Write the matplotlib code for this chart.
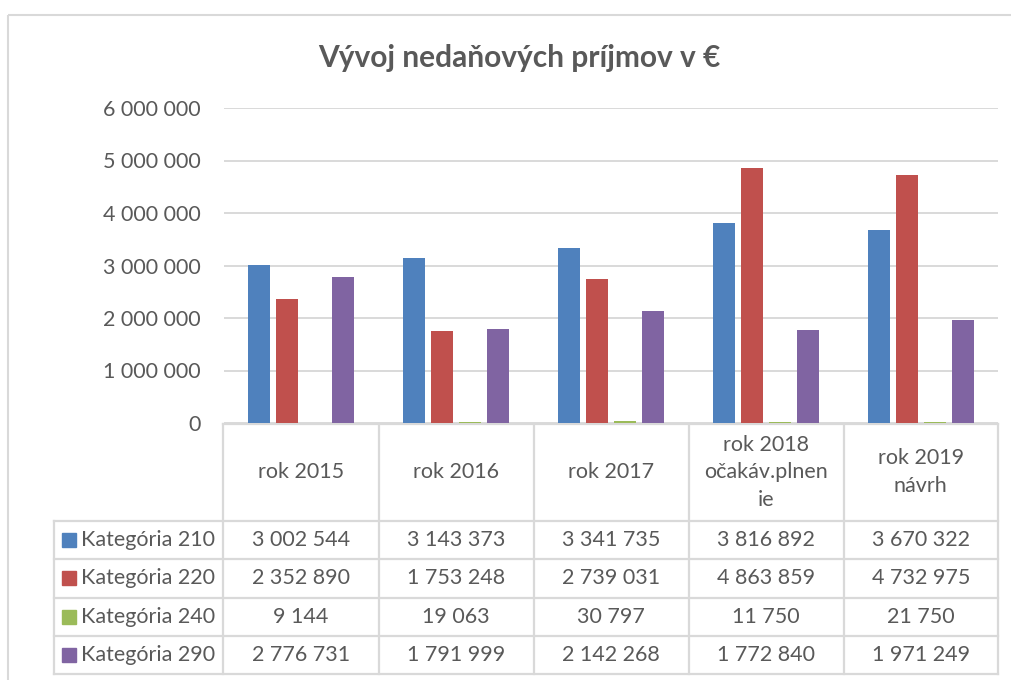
import numpy as np
import matplotlib
matplotlib.use("Agg")
import matplotlib.pyplot as plt
from matplotlib.patches import Rectangle
from matplotlib.lines import Line2D

plt.rcParams['font.family'] = ['Lato', 'DejaVu Sans']

title = "Vývoj nedaňových príjmov v €"
categories = ["rok 2015", "rok 2016", "rok 2017", "rok 2018\nočakáv.plnen\nie", "rok 2019\nnávrh"]
series_names = ["Kategória 210", "Kategória 220", "Kategória 240", "Kategória 290"]
kat210 = [3002544, 3143373, 3341735, 3816892, 3670322]
kat220 = [2352890, 1753248, 2739031, 4863859, 4732975]
kat240 = [9144, 19063, 30797, 11750, 21750]
kat290 = [2776731, 1791999, 2142268, 1772840, 1971249]
yticks = [0, 1000000, 2000000, 3000000, 4000000, 5000000, 6000000]

series = [kat210, kat220, kat240, kat290]
colors = ["#4F81BD", "#C0504D", "#9BBB59", "#8064A2"]
txt = "#595959"
grid = "#D9D9D9"

W, H = 1011, 680
fig = plt.figure(figsize=(W / 100, H / 100), dpi=100)

def fx(px):
    return px / W

def fy(py):
    return 1 - py / H

# plot area in pixels
L, R, T, B = 224, 998, 108, 423
ax = fig.add_axes([fx(L), fy(B), fx(R - L), (B - T) / H])
x = np.arange(len(categories))
bw = 0.142
step = 0.181
offs = (np.arange(len(series)) - 1.5) * step
for s, c, o in zip(series, colors, offs):
    ax.bar(x + o, s, width=bw, color=c, zorder=3)
ax.set_xlim(-0.5, len(categories) - 0.5)
ax.set_ylim(0, 6000000)
ax.set_yticks(yticks)
ax.set_yticklabels([f"{v:,}".replace(",", " ") for v in yticks])
ax.tick_params(axis='y', length=0, pad=17, labelsize=15.5, labelcolor=txt)
ax.set_xticks([])
for sp in ax.spines.values():
    sp.set_visible(False)
ax.yaxis.grid(True, color=grid, linewidth=1.4, zorder=0)
ax.set_axisbelow(True)

# overlay in pixel coordinates for the data table, title and frame
ov = fig.add_axes([0, 0, 1, 1], zorder=-1)
ov.set_xlim(0, W)
ov.set_ylim(H, 0)
ov.axis('off')

ov.add_patch(Rectangle((8, 15), 1020, 700, fill=False, edgecolor=grid, linewidth=1.5))

ov.text(519, 58, title, ha='center', va='center', fontsize=21.5, fontweight='bold', color=txt)

cols = [223, 379, 533.5, 688.5, 843.5, 998]
rows = [520.5, 559, 597.5, 636, 674]
hdr_top = 424
lc = "#D9D9D9"
lw = 1.6
# header row
ov.add_line(Line2D([cols[0], cols[-1]], [hdr_top, hdr_top], color=lc, lw=lw))
for cx in cols:
    ov.add_line(Line2D([cx, cx], [hdr_top, rows[-1]], color=lc, lw=lw))
for ry in rows:
    ov.add_line(Line2D([54, cols[-1]], [ry, ry], color=lc, lw=lw))
ov.add_line(Line2D([54, 54], [rows[0], rows[-1]], color=lc, lw=lw))

for i, cat in enumerate(categories):
    cx = (cols[i] + cols[i + 1]) / 2
    ov.text(cx, (hdr_top + rows[0]) / 2, cat, ha='center', va='center', fontsize=15.5,
            color=txt, linespacing=1.48)

for j, (name, s, c) in enumerate(zip(series_names, series, colors)):
    cy = (rows[j] + rows[j + 1]) / 2
    ov.add_patch(Rectangle((62, cy - 7), 14, 14, color=c))
    ov.text(81, cy, name, ha='left', va='center', fontsize=15.5, color=txt)
    for i, v in enumerate(s):
        cx = (cols[i] + cols[i + 1]) / 2
        ov.text(cx, cy, f"{v:,}".replace(",", " "), ha='center', va='center',
                fontsize=15.5, color=txt)

fig.savefig("out.png", dpi=100)
